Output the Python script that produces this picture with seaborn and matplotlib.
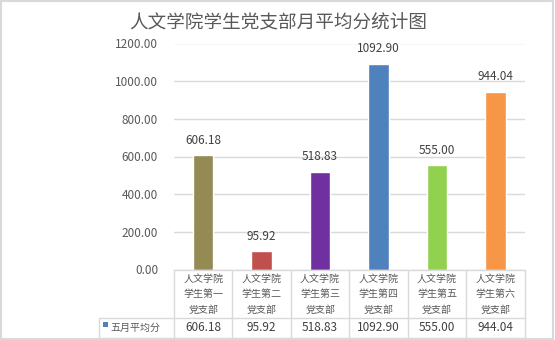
import matplotlib
matplotlib.use("Agg")
import matplotlib.pyplot as plt
import matplotlib.transforms as mtransforms
from matplotlib.lines import Line2D
from matplotlib.patches import Rectangle
import seaborn as sns

# Data
categories = ["人文学院学生第一党支部", "人文学院学生第二党支部", "人文学院学生第三党支部",
              "人文学院学生第四党支部", "人文学院学生第五党支部", "人文学院学生第六党支部"]
category_lines = ["人文学院\n学生第一\n党支部", "人文学院\n学生第二\n党支部", "人文学院\n学生第三\n党支部",
                  "人文学院\n学生第四\n党支部", "人文学院\n学生第五\n党支部", "人文学院\n学生第六\n党支部"]
scores = [606.18, 95.92, 518.83, 1092.90, 555.00, 944.04]
series_name = "五月平均分"
title = "人文学院学生党支部月平均分统计图"
y_ticks = [0, 200, 400, 600, 800, 1000, 1200]
bar_colors = ["#948A54", "#C0504D", "#7030A0", "#4F81BD", "#92D050", "#F79646"]

sns.set_theme(style="white")
plt.rcParams["font.family"] = ["Noto Sans CJK SC", "DejaVu Sans"]

W, H = 555, 340
fig = plt.figure(figsize=(W / 100, H / 100), dpi=100)

def fx(px):
    return px / W

def fy(py):
    return 1 - py / H

ax_left, ax_right, ax_top, ax_bottom = 174, 524.5, 43.5, 269.5
ax = fig.add_axes([fx(ax_left), fy(ax_bottom), fx(ax_right - ax_left), (ax_bottom - ax_top) / H])

sns.barplot(x=categories, y=scores, hue=categories, palette=bar_colors,
            width=0.35, saturation=1, legend=False, ax=ax)
ax.set_xlim(-0.5, len(categories) - 0.5)
ax.set_ylim(0, 1200)
ax.set_yticks(y_ticks)
ax.set_yticklabels([f"{v:.2f}" for v in y_ticks], fontsize=8.5, color="#595959")
ax.tick_params(axis="y", length=0, pad=11.5)
ax.set_xticks([])
ax.set_xlabel("")
ax.set_ylabel("")
ax.grid(axis="y", color="#D9D9D9", linewidth=1)
ax.set_axisbelow(True)
for s in ax.spines.values():
    s.set_visible(False)

for c in ax.containers:
    ax.bar_label(c, fmt="%.2f", padding=6, fontsize=8.5, color="#404040")

fig.text(fx(278), fy(22), title, ha="center", va="center", fontsize=13.4, color="#595959")

# Data table below the plot
grid_c = "#D9D9D9"
tb = mtransforms.blended_transform_factory(ax.transData, fig.transFigure)
row1_bottom, row2_bottom = 317.5, 337.5
legend_left = 99
n = len(categories)
for i in range(n + 1):
    fig.add_artist(Line2D([i - 0.5, i - 0.5], [fy(ax_bottom), fy(row2_bottom)],
                          transform=tb, color=grid_c, linewidth=1))
for yy in (row1_bottom, row2_bottom):
    fig.add_artist(Line2D([fx(legend_left), fx(ax_right)], [fy(yy), fy(yy)],
                          transform=fig.transFigure, color=grid_c, linewidth=1))
fig.add_artist(Line2D([fx(legend_left), fx(legend_left)], [fy(row1_bottom), fy(row2_bottom)],
                      transform=fig.transFigure, color=grid_c, linewidth=1))
fig.add_artist(Line2D([fx(ax_left), fx(ax_right)], [fy(ax_bottom), fy(ax_bottom)],
                      transform=fig.transFigure, color=grid_c, linewidth=1))

for i, (lab, v) in enumerate(zip(category_lines, scores)):
    fig.text(i, fy(294), lab, transform=tb, ha="center", va="center",
             fontsize=7.2, color="#595959", linespacing=1.7)
    fig.text(i, fy(327.5), f"{v:.2f}", transform=tb, ha="center", va="center",
             fontsize=8.5, color="#404040")

fig.add_artist(Rectangle((fx(103), fy(327)), fx(5), 5 / H, transform=fig.transFigure,
                         facecolor=bar_colors[3], edgecolor="none"))
fig.text(fx(110), fy(327.5), series_name, ha="left", va="center", fontsize=7.2, color="#595959")

# Outer frame
fig.add_artist(Rectangle((fx(1), fy(339)), fx(552), 338 / H, transform=fig.transFigure,
                         facecolor="none", edgecolor="#D9D9D9", linewidth=1.5))

fig.savefig("out.png", dpi=100)
